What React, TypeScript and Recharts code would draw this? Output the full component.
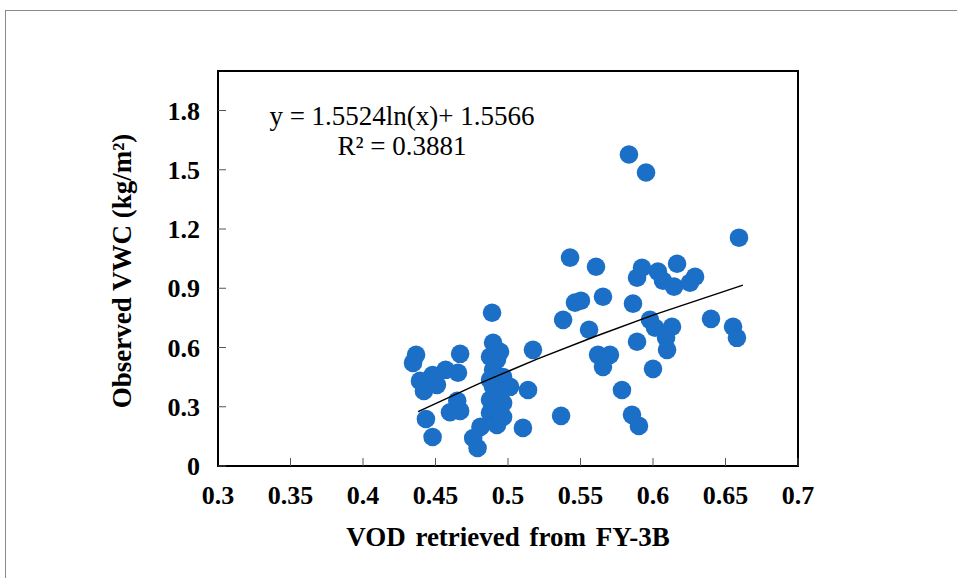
import { ScatterChart, Scatter, XAxis, YAxis, ReferenceArea } from 'recharts';

// observed points: VOD (x) vs observed VWC (y)
const vod = [
  0.4366, 0.4345, 0.4393, 0.442, 0.448, 0.451, 0.457, 0.467, 0.4655, 0.465,
  0.460, 0.467, 0.4434, 0.448, 0.476, 0.479, 0.481,
  0.489, 0.4897, 0.4945, 0.4876, 0.4897, 0.4966, 0.4897, 0.5014, 0.4876, 0.4966,
  0.4876, 0.4966, 0.4924, 0.4924, 0.4876, 0.4945, 0.4917, 0.5138, 0.5172, 0.5103,
  0.5366, 0.538, 0.5428, 0.5462, 0.5503, 0.5559, 0.5607, 0.5655, 0.5621, 0.5703,
  0.5655, 0.5786, 0.5834, 0.5952, 0.5855, 0.5903, 0.5862, 0.589, 0.5924, 0.589,
  0.6034, 0.6069, 0.6166, 0.6145, 0.5979, 0.6014, 0.6131, 0.609, 0.6097, 0.6,
  0.629, 0.6255, 0.64, 0.6552, 0.6579, 0.6593,
];
const vwc = [
  0.563, 0.522, 0.431, 0.38, 0.461, 0.411, 0.487, 0.568, 0.472, 0.33,
  0.272, 0.279, 0.238, 0.147, 0.142, 0.091, 0.198,
  0.776, 0.624, 0.578, 0.553, 0.487, 0.451, 0.401, 0.401, 0.335, 0.319,
  0.269, 0.248, 0.208, 0.538, 0.436, 0.375, 0.284, 0.385, 0.588, 0.193,
  0.254, 0.74, 1.055, 0.827, 0.837, 0.69, 1.009, 0.857, 0.563, 0.563,
  0.502, 0.385, 1.577, 1.486, 0.259, 0.203, 0.822, 0.629, 1.004, 0.953,
  0.984, 0.938, 1.024, 0.908, 0.74, 0.7, 0.705, 0.649, 0.588, 0.492,
  0.958, 0.928, 0.745, 0.705, 0.649, 1.156,
];

// fitted trend (y = 1.5524ln(x) + 1.5566)
const trendX = [0.438, 0.48, 0.52, 0.56, 0.6, 0.662];
const trendY = [0.275, 0.417, 0.541, 0.656, 0.764, 0.916];

const xTicks = [0.3, 0.35, 0.4, 0.45, 0.5, 0.55, 0.6, 0.65, 0.7];
const yTicks = [0, 0.3, 0.6, 0.9, 1.2, 1.5, 1.8];

const points = vod.map((x, i) => ({ x, y: vwc[i] }));
const trend = trendX.map((x, i) => ({ x, y: trendY[i] }));

const font = '"Liberation Serif", "Times New Roman", serif';
const tickStyle = { fill: '#000', fontSize: 26, fontWeight: 700, fontFamily: font };

export default function App() {
  return (
    <div style={{ position: 'absolute', left: 0, top: 0, width: 957, height: 578, background: '#fff', overflow: 'hidden' }}>
      <div
        style={{
          position: 'absolute', left: 5, top: 10, width: 980, height: 600,
          borderTop: '1.5px solid #8a8a8a', borderLeft: '1.5px solid #8a8a8a',
        }}
      />
      <ScatterChart width={957} height={578} margin={{ top: 71, right: 159, bottom: 72, left: 158 }}>
        <XAxis
          type="number"
          dataKey="x"
          domain={[0.3, 0.7]}
          ticks={xTicks}
          allowDataOverflow
          height={40}
          axisLine={{ stroke: '#000', strokeWidth: 2 }}
          tickLine={{ stroke: '#555' }}
          tickSize={-8}
          tickMargin={28}
          tick={tickStyle}
          interval={0}
        />
        <YAxis
          type="number"
          dataKey="y"
          domain={[0, 2]}
          ticks={yTicks}
          allowDataOverflow
          width={60}
          axisLine={{ stroke: '#000', strokeWidth: 2 }}
          tickLine={{ stroke: '#555' }}
          tickSize={-8}
          tickMargin={26}
          tick={tickStyle}
          interval={0}
        />
        <ReferenceArea x1={0.3} x2={0.7} y1={0} y2={2} fill="none" stroke="#000" strokeWidth={2} />
        <Scatter
          data={points}
          isAnimationActive={false}
          shape={(p: any) => <circle cx={p.cx} cy={p.cy} r={9.3} fill="#1c6fc6" />}
        />
        <Scatter
          data={trend}
          isAnimationActive={false}
          line={{ stroke: '#000', strokeWidth: 1.5 }}
          lineType="joint"
          shape={() => <g />}
        />
      </ScatterChart>
      <div
        style={{
          position: 'absolute', left: 252, top: 101, width: 300, textAlign: 'center',
          fontFamily: font, fontSize: 27, lineHeight: '30px', color: '#000',
        }}
      >
        <div>y = 1.5524ln(x)+ 1.5566</div>
        <div>R² = 0.3881</div>
      </div>
      <div
        style={{
          position: 'absolute', left: 218, top: 521, width: 580, textAlign: 'center',
          fontFamily: font, fontSize: 27, fontWeight: 700, lineHeight: '32px', color: '#000',
          wordSpacing: 3,
        }}
      >
        VOD retrieved from FY-3B
      </div>
      <div
        style={{
          position: 'absolute', left: -78, top: 255, width: 400, height: 32, textAlign: 'center',
          fontFamily: font, fontSize: 27, fontWeight: 700, lineHeight: '32px', color: '#000',
          transform: 'rotate(-90deg)',
        }}
      >
        Observed VWC (kg/m²)
      </div>
    </div>
  );
}
